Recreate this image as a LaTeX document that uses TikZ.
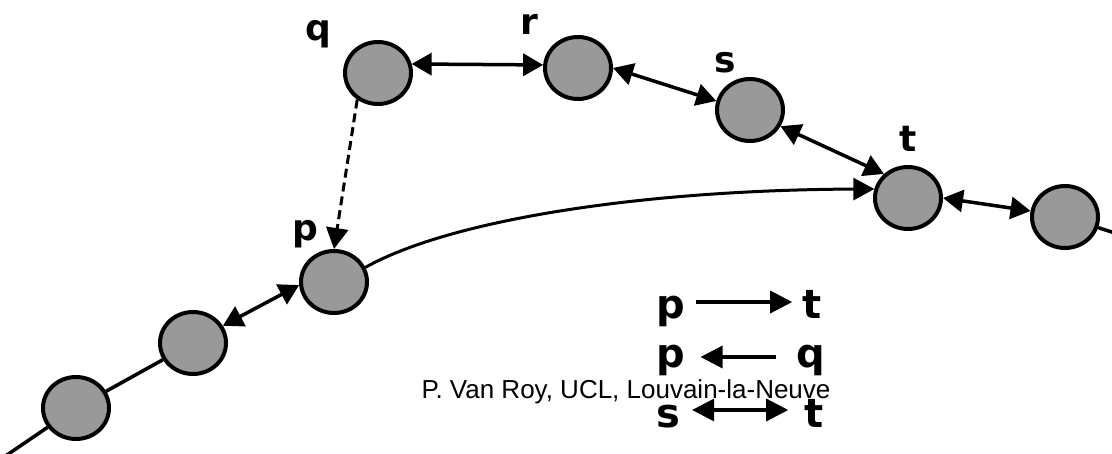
\documentclass[tikz,border=0pt]{standalone}
\usepackage{fontspec}
\setmainfont{Liberation Sans}
\newfontfamily\lblfont{DejaVu Sans}
\usetikzlibrary{arrows.meta,shapes.geometric}
\definecolor{sitegray}{RGB}{153,153,153}
\begin{document}
\begin{tikzpicture}[x=1pt,y=-1pt,
  site/.style={ellipse, draw, line width=4pt, fill=sitegray,
    minimum width=66pt, minimum height=62pt, inner sep=0pt},
  link/.style={line width=3.5pt, {Triangle[length=20pt,width=22pt]}-{Triangle[length=20pt,width=22pt]}},
  plain/.style={line width=3.5pt},
  onearrow/.style={line width=3pt, -{Triangle[length=21pt,width=22pt]}},
  lbl/.style={font=\lblfont\bfseries\fontsize{36}{36}\selectfont, anchor=base, inner sep=0pt},
  leg/.style={font=\lblfont\bfseries\fontsize{40}{40}\selectfont, anchor=base, inner sep=0pt},
  legarrow/.style={line width=3.2pt},
  credit/.style={font=\fontsize{26}{26}\selectfont, anchor=base, inner sep=0pt}]
\useasboundingbox (0,0) rectangle (1112,454);

% ring members
\node[site] (q) at (378,73) {};
\node[site] (r) at (578,68) {};
\node[site] (s) at (750,110) {};
\node[site] (t) at (908,198) {};
\node[site] (u) at (1065,217) {};
\node[site] (p) at (334,282) {};
\node[site] (m) at (193,343) {};
\node[site] (b) at (76,408) {};
\coordinate (tailR) at (1118,234);
\coordinate (tailL) at (4,457);

% names
\node[lbl] (lq) at (318,41) {q};
\node[lbl] (lr) at (529,35) {r};
\node[lbl] (ls) at (725,73) {s};
\node[lbl] (lt) at (908,152) {t};
\node[lbl] (lp) at (305,241) {p};

% ring links
\draw[link] (q.15) -- (r.175);
\draw[link] (r.0) -- (s.165);
\draw[link] (s.-28) -- (t.135);
\draw[link] (t.0) -- (u.170);
\draw[link] (m.30) -- (p.185);
\draw[plain] (b) -- (m);
\draw[plain] (u) -- (tailR);
\draw[plain] (b) -- (tailL);

% pointers
\draw[onearrow, dash pattern=on 9pt off 5pt] (q.232) -- (p.north);
\draw[onearrow] (p.25) .. controls (450,220) and (640,190) .. (t.165);

% legend
\node[leg] (ap) at (671,319) {p};
\node[leg] (at) at (812,319) {t};
\node[leg] (bp) at (671,368) {p};
\node[leg] (bq) at (811,368) {q};
\node[leg] (cs) at (668,428) {s};
\node[leg] (ct) at (814,428) {t};
\draw[legarrow, -{Triangle[length=22pt,width=22pt]}]
  ([xshift=10pt,yshift=17pt]ap.base east) -- ([xshift=-10pt,yshift=17pt]at.base west);
\draw[legarrow, {Triangle[length=22pt,width=22pt]}-]
  ([xshift=15pt,yshift=11pt]bp.base east) -- ([xshift=-20pt,yshift=11pt]bq.base west);
\draw[legarrow, {Triangle[length=22pt,width=22pt]}-{Triangle[length=22pt,width=22pt]}]
  ([xshift=12pt,yshift=18pt]cs.base east) -- ([xshift=-16pt,yshift=18pt]ct.base west);

\node[credit] (cr) at (626,399) {P. Van Roy, UCL, Louvain-la-Neuve};
\end{tikzpicture}
\end{document}
